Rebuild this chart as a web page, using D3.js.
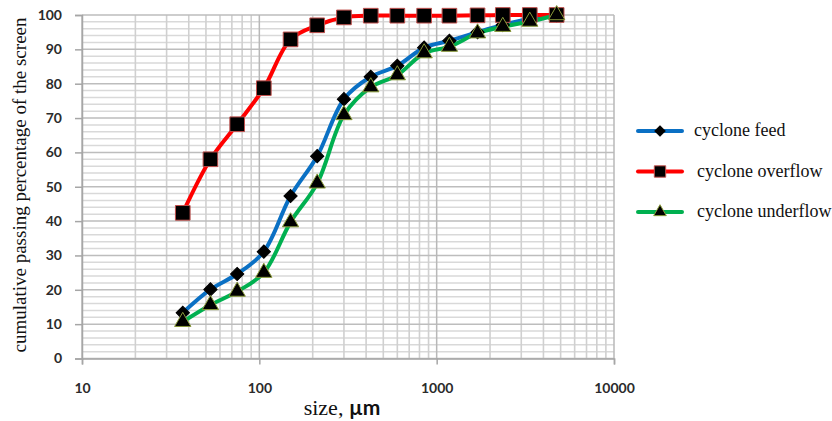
<!DOCTYPE html>
<html>
<head>
<meta charset="utf-8">
<script src="https://cdn.jsdelivr.net/npm/d3@7"></script>
<style>
  body { margin: 0; background: #fff; }
  .tick text { font-family: Lato, "Open Sans", sans-serif; font-weight: bold; font-size: 14px; fill: #2b2b2b; }
</style>
</head>
<body>
<svg id="chart" width="832" height="421"></svg>
<script>
// Sieve sizes (µm)
var sizes = [37, 53, 75, 106, 150, 212, 300, 425, 600, 850, 1180, 1700, 2360, 3350, 4750];

// Cumulative passing (%)
var feed      = [13.3, 20.1, 24.6, 31.1, 47.3, 58.9, 75.5, 82.0, 85.2, 90.5, 92.5, 95.0, 97.1, 98.9, 99.9];
var overflow  = [42.4, 58.0, 68.2, 78.7, 92.9, 97.0, 99.3, 99.8, 99.8, 99.8, 99.8, 99.9, 100, 100, 100];
var underflow = [10.7, 15.6, 19.5, 25.0, 39.7, 51.0, 70.9, 79.0, 82.5, 88.9, 90.8, 94.7, 96.6, 98.1, 100];

var seriesNames = ["cyclone feed", "cyclone overflow", "cyclone underflow"];
var xTicks = [10, 100, 1000, 10000];
var yTicks = d3.range(0, 101, 10);

// SVG size params
var margin = {top: 15, left: 82};
var width = 532;
var height = 343.5;

var svg = d3.select("#chart")
  .append("g")
    .attr("transform", "translate(" + margin.left + "," + margin.top + ")");

// Scales
var x = d3.scaleLog().domain([10, 10000]).range([0, width]);
var y = d3.scaleLinear().domain([0, 100]).range([height, 0]);

// Minor grid lines
var minorX = [];
[10, 100, 1000].forEach(function(d) {
  for (var k = 2; k <= 9; k++) minorX.push(d * k);
});
var minorY = d3.range(2, 100, 2).filter(function(v) { return v % 10 != 0; });

var grid = svg.append("g").attr("id", "grid-lines");
grid.selectAll(".hminor").data(minorY)
  .enter().append("line")
    .attr("x1", 0).attr("x2", width)
    .attr("y1", d => y(d)).attr("y2", d => y(d))
    .attr("stroke", "#d9d9d9").attr("stroke-width", 1.5);
grid.selectAll(".vminor").data(minorX)
  .enter().append("line")
    .attr("x1", d => x(d)).attr("x2", d => x(d))
    .attr("y1", 0).attr("y2", height)
    .attr("stroke", "#d0d0d0").attr("stroke-width", 1.6);
grid.selectAll(".hmajor").data(yTicks)
  .enter().append("line")
    .attr("x1", 0).attr("x2", width)
    .attr("y1", d => y(d)).attr("y2", d => y(d))
    .attr("stroke", "#bdbdbd").attr("stroke-width", 1.5);
grid.selectAll(".vmajor").data(xTicks)
  .enter().append("line")
    .attr("x1", d => x(d)).attr("x2", d => x(d))
    .attr("y1", 0).attr("y2", height)
    .attr("stroke", "#b8b8b8").attr("stroke-width", 1.5);

// Axes
var xAxis = d3.axisBottom(x).tickValues(xTicks).tickFormat(d3.format("d")).tickSize(6).tickPadding(19);
var yAxis = d3.axisLeft(y).tickValues(yTicks).tickSize(7).tickPadding(13);

svg.append("g")
    .attr("transform", "translate(0," + height + ")")
    .call(xAxis)
    .call(g => g.selectAll("line, path").attr("stroke", "#a6a6a6").attr("stroke-width", 1.5));
svg.append("g")
    .call(yAxis)
    .call(g => g.selectAll("line, path").attr("stroke", "#a6a6a6").attr("stroke-width", 1.5));

// Series
var series = [
  {name: seriesNames[0], values: feed,      color: "#0a70c4", marker: "diamond"},
  {name: seriesNames[1], values: overflow,  color: "#ff0000", marker: "square"},
  {name: seriesNames[2], values: underflow, color: "#00b050", marker: "triangle"}
];

var line = d3.line()
  .x(d => x(d[0]))
  .y(d => y(d[1]))
  .curve(d3.curveCatmullRom.alpha(0.5));

function markerPath(type, k) {
  if (type == "diamond") return d3.symbol(d3.symbolSquare, 88 * k)();
  if (type == "square") return d3.symbol(d3.symbolSquare, 215 * k)();
  return d3.symbol(d3.symbolTriangle, 115 * k)();
}
function markerRotate(type) {
  return type == "diamond" ? " rotate(45)" : "";
}
function markerStroke(type) {
  if (type == "square") return "#c0504d";
  if (type == "triangle") return "#8a9a3a";
  return "#000";
}

series.forEach(function(s) {
  var pts = sizes.map((d, i) => [d, s.values[i]]);
  svg.append("path")
    .attr("d", line(pts))
    .attr("fill", "none")
    .attr("stroke", s.color)
    .attr("stroke-width", 4);
});

series.forEach(function(s) {
  var pts = sizes.map((d, i) => [d, s.values[i]]);
  svg.selectAll(null).data(pts)
    .enter().append("path")
      .attr("d", markerPath(s.marker, 1))
      .attr("transform", d => "translate(" + x(d[0]) + "," + y(d[1]) + ")" + markerRotate(s.marker))
      .attr("fill", "#000")
      .attr("stroke", markerStroke(s.marker))
      .attr("stroke-width", 1);
});

// Axis titles
d3.select("#chart").append("text")
  .attr("transform", "translate(26,185) rotate(-90)")
  .attr("text-anchor", "middle")
  .style("font-family", "'Liberation Serif', serif")
  .style("font-size", "19px")
  .attr("fill", "#111")
  .text("cumulative passing percentage of the screen");

var xt = d3.select("#chart").append("text")
  .attr("x", 342).attr("y", 415)
  .attr("text-anchor", "middle")
  .attr("fill", "#111");
xt.append("tspan")
  .style("font-family", "'Liberation Serif', serif")
  .style("font-size", "22px")
  .text("size, ");
xt.append("tspan")
  .style("font-family", "Lato, sans-serif")
  .style("font-weight", "bold")
  .style("font-size", "21px")
  .text("µm");

// Legend
var legend = d3.select("#chart").append("g")
  .attr("transform", "translate(638,131)");
var items = legend.selectAll("g").data(series)
  .enter().append("g")
    .attr("transform", (d, i) => "translate(0," + (i * 40.5) + ")");
items.append("line")
  .attr("x1", 0).attr("x2", 44)
  .attr("stroke", d => d.color)
  .attr("stroke-width", 4)
  .attr("stroke-linecap", "round");
items.append("path")
  .attr("d", d => markerPath(d.marker, 0.6))
  .attr("transform", d => "translate(22,0)" + markerRotate(d.marker))
  .attr("fill", "#000")
  .attr("stroke", d => markerStroke(d.marker));
items.append("text")
  .attr("x", (d, i) => i == 0 ? 56 : 59)
  .attr("y", 5)
  .style("font-family", "'Liberation Serif', serif")
  .style("font-size", "18px")
  .attr("fill", "#111")
  .text(d => d.name);
</script>
</body>
</html>
